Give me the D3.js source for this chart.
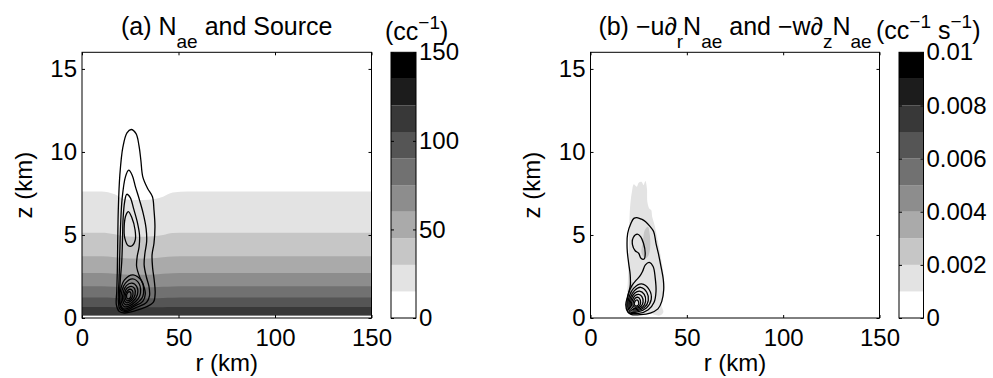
<!DOCTYPE html>
<html>
<head>
<meta charset="utf-8">
<script src="https://cdn.jsdelivr.net/npm/d3@7"></script>
<style>
  body { margin: 0; background: #fff; }
  svg text { font-family: "Liberation Sans", Arial, Helvetica, sans-serif; fill: #000; }
  .tick line { stroke: #000; }
</style>
</head>
<body>
<div id="chart"></div>
<script>
// ---- shared axis data
var rTicks = [0, 50, 100, 150];
var zTicks = [0, 5, 10, 15];
var greys = ['#ffffff', '#e3e3e3', '#c6c6c6', '#aaaaaa', '#8d8d8d', '#717171', '#555555', '#383838', '#1c1c1c', '#000000'];

// ---- panel (a): N_ae filled bands (level -> boundary height z at each r)
var levelsA = [0, 15, 30, 45, 60, 75, 90, 105, 120, 135];
var cbarTicksA = [0, 50, 100, 150];
var bandR = [0, 10, 17, 22, 27, 32, 37, 42, 47, 55, 150];
var bandBase = 0.16;
var bandTop = {
  15:  [7.62, 7.62, 7.45, 7.15, 7.1, 7.1, 7.15, 7.3, 7.55, 7.62, 7.62],
  30:  [5.14, 5.14, 5.05, 4.92, 4.9, 4.9, 4.92, 5.0, 5.12, 5.14, 5.14],
  45:  [3.72, 3.72, 3.66, 3.6, 3.58, 3.58, 3.6, 3.66, 3.71, 3.72, 3.72],
  60:  [2.71, 2.71, 2.67, 2.62, 2.6, 2.6, 2.62, 2.67, 2.7, 2.71, 2.71],
  75:  [1.91, 1.91, 1.88, 1.85, 1.84, 1.84, 1.85, 1.88, 1.9, 1.91, 1.91],
  90:  [1.23, 1.23, 1.21, 1.19, 1.18, 1.18, 1.19, 1.21, 1.22, 1.23, 1.23],
  105: [0.66, 0.66, 0.65, 0.64, 0.63, 0.63, 0.64, 0.65, 0.66, 0.66, 0.66]
};

// ---- panel (a): source contours, [r km, z km]
var sourceA = [
  [[25.5,11.35],[28,11.1],[29.5,10.4],[30.5,9.5],[31.5,8.5],[34,7.8],[36.5,7.3],[37.3,6.5],[37.8,5.5],[37.3,4.5],[36.3,3.8],[36.6,3.0],[37.4,2.3],[37.9,1.5],[37,0.95],[33,0.65],[27,0.42],[22,0.3],[19.2,0.4],[17.8,0.8],[18,1.6],[18.3,2.8],[18.5,4.5],[18.8,6.5],[19.6,8.6],[21.2,10.3],[23.3,11.15]],
  [[24.2,8.9],[26,8.6],[27.7,7.9],[29.8,7.1],[31.7,6.3],[33.2,5.4],[33.5,4.6],[32.6,3.9],[32.2,3.2],[33.3,2.5],[34.7,1.9],[35,1.35],[33.5,0.95],[28,0.62],[22.3,0.38],[19.6,0.55],[18.8,1.1],[19.2,2.3],[19.6,4],[20,5.6],[20.8,7.2],[22.5,8.5]],
  [[23.2,7.45],[25,7.25],[26.7,6.6],[28.6,5.8],[29.8,5.0],[29.6,4.3],[28.6,3.7],[28.3,3.1],[29.8,2.5],[31.8,2.0],[32.8,1.45],[31.5,1.0],[27,0.7],[22.2,0.45],[20,0.65],[19.4,1.1],[19.8,2.2],[20.6,3.4],[21,4.8],[21.3,6.0],[22.1,7.0]],
  [[24,6.4],[25.8,6.05],[27.5,5.3],[27.6,4.7],[26,4.35],[24,4.35],[22.2,4.8],[21.9,5.6],[22.8,6.2]],
  [[19.6,1.0],[21.5,0.55],[26.5,0.75],[31.5,1.3],[31,2.2],[26.5,2.6],[22,2.3],[20,1.7]],
  [[20.3,1.05],[22,0.68],[26.3,0.85],[30,1.35],[29.7,2.05],[26.2,2.35],[22.5,2.1],[20.7,1.65]],
  [[21,1.1],[22.5,0.8],[26,0.95],[28.7,1.4],[28.3,1.9],[25.8,2.1],[23,1.95],[21.5,1.6]],
  [[21.7,1.15],[23,0.92],[25.7,1.05],[27.5,1.4],[27.2,1.78],[25.5,1.9],[23.4,1.8],[22.2,1.55]],
  [[22.4,1.2],[23.4,1.04],[25.3,1.13],[26.4,1.4],[26.1,1.65],[25,1.73],[23.7,1.66],[22.8,1.5]],
  [[23.1,1.26],[23.8,1.15],[25,1.22],[25.4,1.4],[25.1,1.55],[24.4,1.58],[23.6,1.52]]
];

// ---- panel (b): advection shading patches and contours
var levelsB = [0, 0.001, 0.002, 0.003, 0.004, 0.005, 0.006, 0.007, 0.008, 0.009];
var cbarTicksB = [0, 0.002, 0.004, 0.006, 0.008, 0.01];
var shadeB = [
  { level: 0.001, pts: [[19.5,0.3],[19,1.2],[19.5,2.5],[19.8,3.8],[20,5],[20.3,6.2],[20.8,7.0],[21.5,7.6],[22.5,8.05],[24,7.9],[25,8.15],[26.5,8.2],[27.5,8.0],[28.5,8.25],[29.3,7.8],[29.5,7.0],[30.5,6.6],[31.5,6.5],[32,6.1],[33,5.7],[34,5.2],[35,4.6],[36.3,3.8],[37.5,3.0],[38.3,2.2],[37.8,1.4],[36.8,0.8],[37.8,0.35],[36,0.15],[30,0.3],[25,0.25]] },
  { level: 0.002, pts: [[26.5,3.9],[27.2,4.6],[28.2,5.3],[29.8,5.5],[30.8,5.0],[31,4.3],[30.2,3.8],[28.5,3.6]] },
  { level: 0.002, pts: [[19,0.6],[19.3,1.3],[20.2,1.9],[21.5,2.2],[22.5,1.8],[21.5,1.2],[20.5,0.7]] },
  { level: 0.003, pts: [[19.6,0.8],[20,1.3],[21,1.7],[21.5,1.3],[20.6,0.9]] }
];
var contourB = [
  [[24.1,6.05],[26.5,5.95],[28.6,5.8],[31,5.5],[32.8,5.2],[34,4.5],[35.2,3.9],[36.6,3.1],[37.8,2.3],[38,1.7],[37,1.0],[35,0.55],[31,0.3],[26,0.2],[21,0.22],[19.2,0.4],[18.3,0.8],[19.5,1.4],[20.6,1.9],[20.6,2.6],[19.8,3.3],[19,4.2],[19.3,5.1],[21,5.7],[22.5,6.0]],
  [[24.3,5.05],[26,4.9],[27.5,4.5],[28.4,3.9],[27.8,3.55],[26.2,3.6],[25,3.9],[23.2,4.05],[21.8,4.4],[22.2,4.85]],
  [[19.6,0.35],[18.9,0.85],[19.8,1.5],[21.5,1.95],[23.5,2.25],[25.5,2.5],[27,2.8],[28.5,3.2],[30.5,3.35],[32.5,3.1],[33.6,2.4],[34,1.6],[33,0.95],[30,0.5],[25,0.28]],
  [[19.4,0.7],[20.5,0.38],[24,0.35],[29,0.6],[31.5,1.1],[30.5,1.7],[26.5,2.05],[22.5,1.8],[20,1.25]],
  [[20,0.72],[21,0.45],[24,0.43],[28,0.64],[30,1.05],[29.2,1.55],[26,1.85],[22.8,1.65],[20.6,1.2]],
  [[20.6,0.75],[21.6,0.52],[24,0.5],[27.2,0.68],[28.6,1.0],[27.9,1.42],[25.5,1.62],[23,1.5],[21.2,1.15]],
  [[21.3,0.78],[22.2,0.59],[24,0.58],[26.4,0.72],[27.3,0.97],[26.6,1.3],[25,1.42],[23.2,1.35],[21.8,1.1]],
  [[22,0.8],[22.8,0.66],[24,0.65],[25.6,0.76],[26,0.95],[25.4,1.18],[24.5,1.25],[23.3,1.2],[22.4,1.03]],
  [[22.7,0.83],[23.3,0.73],[24.1,0.73],[24.9,0.8],[25,0.94],[24.4,1.08],[23.6,1.07],[23,0.98]]
];

var W = 993, H = 378;
var fs = 24, fsTitle = 25, fsSub = 19;
var plotTop = 52.3, plotBottom = 318;

var svg = d3.select('#chart').append('svg')
  .attr('width', W).attr('height', H);

function drawPanel(p) {
  var x = d3.scaleLinear().domain([0, 150]).range([p.x0, p.x1]);
  var y = d3.scaleLinear().domain([0, 16]).range([plotBottom, plotTop]);
  var g = svg.append('g');

  // clip to plot box
  var clipId = 'clip' + p.id;
  g.append('clipPath').attr('id', clipId)
    .append('rect').attr('x', p.x0).attr('y', plotTop)
    .attr('width', p.x1 - p.x0).attr('height', plotBottom - plotTop);
  var plot = g.append('g').attr('clip-path', 'url(#' + clipId + ')');

  p.fill(plot, x, y);

  var line = d3.line()
    .x(function(d) { return x(d[0]); })
    .y(function(d) { return y(d[1]); })
    .curve(d3.curveCatmullRomClosed.alpha(0.5));
  plot.selectAll('path.cont')
    .data(p.contours)
    .enter().append('path')
      .attr('class', 'cont')
      .attr('d', line)
      .attr('fill', 'none')
      .attr('stroke', '#000')
      .attr('stroke-width', 1.3);

  // axes, ticks pointing inward like matlab
  g.append('g')
    .attr('transform', 'translate(0,' + plotBottom + ')')
    .call(d3.axisBottom(x).tickValues(rTicks).tickSizeInner(-3).tickSizeOuter(0).tickPadding(11))
    .call(styleAxis);
  g.append('g')
    .attr('transform', 'translate(0,' + plotTop + ')')
    .call(d3.axisTop(x).tickValues(rTicks).tickSizeInner(-3).tickSizeOuter(0).tickFormat(''))
    .call(styleAxis);
  g.append('g')
    .attr('transform', 'translate(' + p.x0 + ',0)')
    .call(d3.axisLeft(y).tickValues(zTicks).tickSizeInner(-3).tickSizeOuter(0).tickPadding(5))
    .call(styleAxis);
  g.append('g')
    .attr('transform', 'translate(' + p.x1 + ',0)')
    .call(d3.axisRight(y).tickValues(zTicks).tickSizeInner(-3).tickSizeOuter(0).tickFormat(''))
    .call(styleAxis);

  // axis labels
  g.append('text')
    .attr('x', (p.x0 + p.x1) / 2).attr('y', 371)
    .attr('text-anchor', 'middle').style('font-size', fs + 'px')
    .text('r (km)');
  g.append('text')
    .attr('transform', 'translate(' + p.zLabelX + ',' + ((plotTop + plotBottom) / 2) + ') rotate(-90)')
    .attr('text-anchor', 'middle').style('font-size', fs + 'px')
    .text('z (km)');

  // title
  var t = g.append('text')
    .attr('x', (p.x0 + p.x1) / 2).attr('y', 35)
    .attr('text-anchor', 'middle').style('font-size', fsTitle + 'px');
  addRich(t, p.title);

  // colorbar
  var cy = d3.scaleLinear().domain(p.cbarDomain).range([plotBottom, plotTop]);
  var step = p.levels[1] - p.levels[0];
  var cb = g.append('g');
  cb.selectAll('rect')
    .data(p.levels)
    .enter().append('rect')
      .attr('x', p.cb0)
      .attr('width', p.cb1 - p.cb0)
      .attr('y', function(d) { return cy(d + step); })
      .attr('height', function(d) { return cy(d) - cy(d + step); })
      .attr('fill', function(d) { return p.color(d); });
  cb.append('g')
    .attr('transform', 'translate(' + p.cb1 + ',0)')
    .call(d3.axisRight(cy).tickValues(p.cbarTicks).tickSizeInner(-3).tickSizeOuter(0).tickPadding(3).tickFormat(p.cbarFormat))
    .call(styleAxis);
  cb.append('g')
    .attr('transform', 'translate(' + p.cb0 + ',0)')
    .call(d3.axisLeft(cy).tickValues(p.cbarTicks).tickSizeInner(-3).tickSizeOuter(0).tickFormat(''))
    .call(styleAxis);
  cb.append('rect')
    .attr('x', p.cb0).attr('y', plotTop)
    .attr('width', p.cb1 - p.cb0).attr('height', plotBottom - plotTop)
    .attr('fill', 'none').attr('stroke', '#000');

  var u = g.append('text')
    .attr('x', p.unitX).attr('y', p.unitY)
    .style('font-size', fsTitle + 'px');
  addRich(u, p.unit);

  // plot frame
  g.append('rect')
    .attr('x', p.x0).attr('y', plotTop)
    .attr('width', p.x1 - p.x0).attr('height', plotBottom - plotTop)
    .attr('fill', 'none').attr('stroke', '#000');
}

function styleAxis(sel) {
  sel.selectAll('.domain').remove();
  sel.selectAll('text').style('font-size', fs + 'px')
    .style('font-family', '"Liberation Sans", Arial, Helvetica, sans-serif');
}

// parts: [text, shift] ; shift >0 subscript, <0 superscript
function addRich(el, parts) {
  var cur = 0;
  parts.forEach(function(pt) {
    var s = pt[1] || 0;
    var span = el.append('tspan')
      .attr('dy', s - cur)
      .text(pt[0]);
    if (s !== 0) span.style('font-size', fsSub + 'px');
    cur = s;
  });
}

var colorA = d3.scaleThreshold().domain(levelsA.slice(1)).range(greys);
var colorB = d3.scaleThreshold().domain(levelsB.slice(1)).range(greys);

drawPanel({
  id: 'a', x0: 82, x1: 371.5, cb0: 391, cb1: 416, zLabelX: 32,
  levels: levelsA, cbarDomain: [0, 150], cbarTicks: cbarTicksA,
  cbarFormat: d3.format('d'), color: colorA,
  contours: sourceA,
  title: [['(a) N'], ['ae', 13], [' and Source']],
  unit: [['(cc'], ['\u22121', -11], [')']], unitX: 385, unitY: 40,
  fill: function(plot, x, y) {
    Object.keys(bandTop).map(Number).sort(function(a, b) { return a - b; }).forEach(function(L) {
      var area = d3.area()
        .x(function(d, i) { return x(bandR[i]); })
        .y0(y(bandBase))
        .y1(function(d) { return y(d); })
        .curve(d3.curveMonotoneX);
      plot.append('path')
        .attr('d', area(bandTop[L]))
        .attr('fill', colorA(L));
    });
  }
});

drawPanel({
  id: 'b', x0: 590.5, x1: 879.5, cb0: 899, cb1: 923.5, zLabelX: 540,
  levels: levelsB, cbarDomain: [0, 0.01], cbarTicks: cbarTicksB,
  cbarFormat: function(d) { return d === 0 ? '0' : String(+d.toFixed(3)); }, color: colorB,
  contours: contourB,
  title: [['(b) \u2212u\u2202'], ['r', 13], ['N'], ['ae', 13], [' and \u2212w\u2202'], ['z', 13], ['N'], ['ae', 13]],
  unit: [['(cc'], ['\u22121', -11], [' s'], ['\u22121', -11], [')']], unitX: 876, unitY: 39,
  fill: function(plot, x, y) {
    var poly = d3.line()
      .x(function(d) { return x(d[0]); })
      .y(function(d) { return y(d[1]); })
      .curve(d3.curveCatmullRomClosed.alpha(0.5));
    plot.selectAll('path.shade')
      .data(shadeB)
      .enter().append('path')
        .attr('class', 'shade')
        .attr('d', function(d) { return poly(d.pts); })
        .attr('fill', function(d) { return colorB(d.level); });
  }
});
</script>
</body>
</html>
